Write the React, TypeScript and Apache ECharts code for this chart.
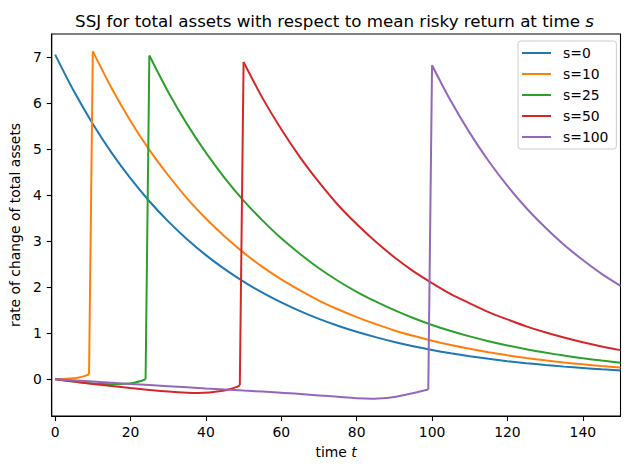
import React, { useEffect, useRef } from "react";
import * as echarts from "echarts";

const seriesNames = ["s=0", "s=10", "s=25", "s=50", "s=100"];
const colors = ["#1f77b4", "#ff7f0e", "#2ca02c", "#d62728", "#9467bd"];
const xTicks = [0, 20, 40, 60, 80, 100, 120, 140];
const yTicks = [0, 1, 2, 3, 4, 5, 6, 7];

const t0 = [0, 5, 10, 15, 20, 25, 30, 35, 40, 45, 50, 55, 60, 65, 70, 75, 80, 85, 90, 95, 100, 105, 110, 115, 120, 125, 130, 135, 140, 145, 150];
const v0 = [7.05, 6.252, 5.544, 4.917, 4.36, 3.866, 3.429, 3.041, 2.696, 2.391, 2.12, 1.88, 1.668, 1.479, 1.311, 1.163, 1.031, 0.915, 0.811, 0.719, 0.638, 0.566, 0.502, 0.445, 0.394, 0.35, 0.31, 0.275, 0.244, 0.216, 0.192];

const t10 = [0, 2, 4, 6, 8, 9, 10, 15, 20, 25, 30, 35, 40, 45, 50, 55, 60, 65, 70, 75, 80, 85, 90, 95, 100, 105, 110, 115, 120, 125, 130, 135, 140, 145, 150];
const v10 = [0, 0.005, 0.015, 0.035, 0.075, 0.11, 7.12, 6.32, 5.61, 4.98, 4.43, 3.93, 3.49, 3.1, 2.75, 2.44, 2.17, 1.93, 1.71, 1.52, 1.35, 1.2, 1.06, 0.944, 0.838, 0.744, 0.661, 0.587, 0.521, 0.463, 0.411, 0.365, 0.324, 0.288, 0.256];

const t25 = [0, 5, 10, 15, 18, 21, 23, 24, 25, 30, 35, 40, 45, 50, 55, 60, 65, 70, 75, 80, 85, 90, 95, 100, 105, 110, 115, 120, 125, 130, 135, 140, 145, 150];
const v25 = [0, -0.05, -0.09, -0.105, -0.1, -0.075, -0.03, 0.0, 7.03, 6.24, 5.54, 4.92, 4.37, 3.88, 3.45, 3.06, 2.72, 2.41, 2.14, 1.9, 1.69, 1.5, 1.33, 1.18, 1.05, 0.932, 0.828, 0.735, 0.653, 0.58, 0.515, 0.457, 0.406, 0.36];

const t50 = [0, 5, 10, 15, 20, 25, 30, 35, 38, 41, 44, 46, 48, 49, 50, 55, 60, 65, 70, 75, 80, 85, 90, 95, 100, 105, 110, 115, 120, 125, 130, 135, 140, 145, 150];
const v50 = [0, -0.05, -0.1, -0.145, -0.19, -0.23, -0.265, -0.29, -0.295, -0.285, -0.255, -0.22, -0.17, -0.13, 6.89, 6.11, 5.43, 4.82, 4.28, 3.79, 3.37, 2.99, 2.65, 2.35, 2.09, 1.85, 1.65, 1.46, 1.3, 1.15, 1.02, 0.906, 0.804, 0.713, 0.633];

const t100 = [0, 10, 20, 30, 40, 50, 60, 65, 70, 75, 80, 84, 88, 90, 93, 96, 99, 100, 105, 110, 115, 120, 125, 130, 135, 140, 145, 150];
const v100 = [0, -0.05, -0.1, -0.15, -0.2, -0.245, -0.29, -0.32, -0.35, -0.38, -0.41, -0.42, -0.405, -0.385, -0.335, -0.28, -0.22, 6.82, 6.04, 5.35, 4.74, 4.2, 3.72, 3.3, 2.92, 2.59, 2.29, 2.03];

const allT = [t0, t10, t25, t50, t100];
const allV = [v0, v10, v25, v50, v100];

const FONT = "DejaVu Sans";

function buildSeries() {
  const out: any[] = [];
  seriesNames.forEach((name, i) => {
    const pts = allT[i].map((t, j) => [t, allV[i][j]]);
    let jump = -1;
    for (let j = 1; j < pts.length; j++) {
      if (pts[j][1] - pts[j - 1][1] > 3) {
        jump = j;
        break;
      }
    }
    const base = {
      name,
      type: "line",
      showSymbol: false,
      symbol: "none",
      lineStyle: { width: 2, color: colors[i] },
      itemStyle: { color: colors[i] },
      emphasis: { disabled: true },
      z: 2 + i,
    };
    const pieces: number[][][] =
      jump < 0
        ? [pts]
        : [pts.slice(0, jump), pts.slice(jump - 1, jump + 1), pts.slice(jump)];
    pieces.forEach((d, k) => {
      const smooth = !(jump >= 0 && k === 1);
      out.push({
        ...base,
        data: d,
        smooth: smooth ? 0.3 : false,
      });
    });
  });
  return out;
}

export default function App() {
  const ref = useRef<HTMLDivElement>(null);
  useEffect(() => {
    if (!ref.current) return;
    const chart = echarts.init(ref.current, null, { renderer: "svg" });
    chart.setOption({
      animation: false,
      backgroundColor: "#ffffff",
      title: {
        text: "SSJ for total assets with respect to mean risky return at time {i|s}",
        left: 334.5,
        top: 12,
        textAlign: "center",
        padding: 0,
        textStyle: {
          fontFamily: FONT,
          fontSize: 16.7,
          fontWeight: "normal",
          color: "#000",
          rich: {
            i: { fontFamily: FONT, fontSize: 16.7, fontStyle: "italic", color: "#000" },
          },
        },
      },
      legend: {
        orient: "vertical",
        left: 518,
        top: 41,
        padding: [5, 8, 5, 4],
        itemWidth: 29,
        itemHeight: 2,
        itemGap: 7,
        icon: "rect",
        borderColor: "#cccccc",
        borderWidth: 1,
        borderRadius: 3,
        backgroundColor: "rgba(255,255,255,0.8)",
        textStyle: {
          fontFamily: FONT,
          fontSize: 13.9,
          color: "#000",
          lineHeight: 14,
          padding: [0, 0, 0, 7],
        },
        data: seriesNames,
      },
      grid: {
        left: 48.5,
        top: 34,
        width: 572,
        height: 382,
        show: true,
        borderColor: "#000",
        borderWidth: 1.1,
        backgroundColor: "transparent",
      },
      xAxis: {
        type: "value",
        min: -0.9,
        max: 150,
        name: "time {i|t}",
        nameLocation: "middle",
        nameGap: 29,
        nameTextStyle: {
          fontFamily: FONT,
          fontSize: 13.9,
          color: "#000",
          rich: { i: { fontFamily: FONT, fontSize: 13.9, fontStyle: "italic", color: "#000" } },
        },
        splitLine: { show: false },
        axisLine: { show: true, onZero: false, lineStyle: { color: "#000", width: 1.1 } },
        axisTick: {
          show: true,
          length: 5,
          lineStyle: { color: "#000", width: 1.1 },
          customValues: xTicks,
        },
        axisLabel: {
          fontFamily: FONT,
          fontSize: 13.9,
          color: "#000",
          margin: 9,
          customValues: xTicks,
        },
      },
      yAxis: {
        type: "value",
        min: -0.797,
        max: 7.497,
        name: "rate of change of total assets",
        nameLocation: "middle",
        nameGap: 27,
        nameTextStyle: { fontFamily: FONT, fontSize: 13.9, color: "#000" },
        splitLine: { show: false },
        axisLine: { show: true, onZero: false, lineStyle: { color: "#000", width: 1.1 } },
        axisTick: {
          show: true,
          length: 5,
          lineStyle: { color: "#000", width: 1.1 },
          customValues: yTicks,
        },
        axisLabel: {
          fontFamily: FONT,
          fontSize: 13.9,
          color: "#000",
          margin: 10,
          customValues: yTicks,
        },
      },
      series: buildSeries(),
    });
    return () => chart.dispose();
  }, []);
  return (
    <div
      ref={ref}
      style={{ position: "fixed", left: 0, top: 0, width: 630, height: 470 }}
    />
  );
}
